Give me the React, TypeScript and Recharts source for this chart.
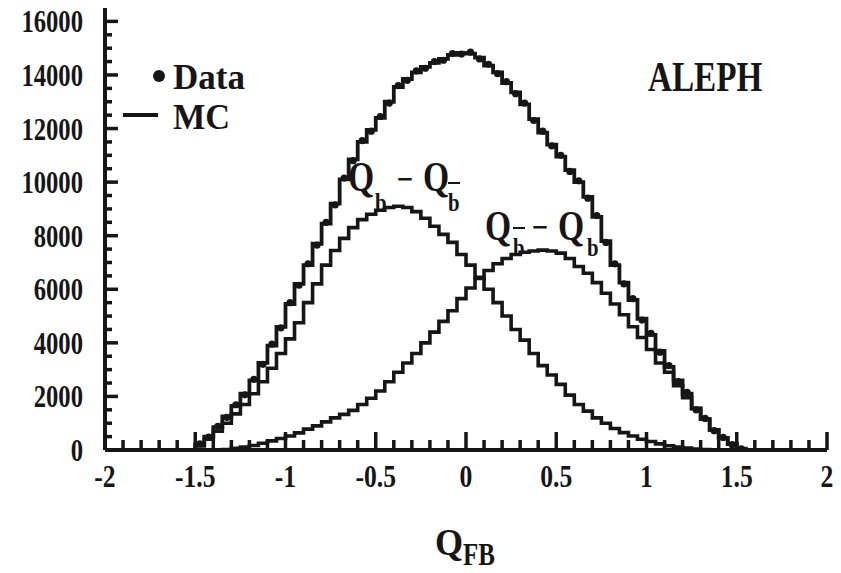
import { ComposedChart, Line, Scatter, XAxis, YAxis } from "recharts";

const INK = "#161616";
const FONT = '"Liberation Serif", "Times New Roman", serif';

// Q_FB histograms: 64 bins of width 0.05 spanning [-1.6, 1.6]
const BIN_START = -1.6;
const BIN_WIDTH = 0.05;

// total MC prediction
const mcTotal = [
  0, 0, 200, 500, 850, 1250, 1650, 2100, 2600, 3250, 3900, 4600, 5450, 6200, 6900, 7700,
  8450, 9200, 10100, 10850, 11500, 11950, 12400, 13000, 13550, 13850, 14100, 14300, 14450, 14600, 14750, 14820,
  14800, 14650, 14350, 14100, 13700, 13350, 12900, 12350, 11850, 11400, 10950, 10450, 10000, 9450, 8700, 7800,
  6900, 6250, 5600, 4900, 4300, 3700, 3100, 2600, 2100, 1550, 1150, 750, 450, 220, 30, 0,
];

// Q_b - Q_bbar component
const mcBminusBbar = [
  0, 0, 150, 400, 700, 1000, 1350, 1700, 2100, 2550, 3050, 3600, 4150, 4750, 5500, 6200,
  6900, 7450, 7900, 8300, 8600, 8800, 8950, 9050, 9100, 9050, 8900, 8650, 8350, 8050, 7750, 7300,
  6900, 6450, 6000, 5500, 5000, 4500, 4100, 3600, 3150, 2800, 2450, 2050, 1700, 1450, 1200, 1000,
  800, 650, 520, 400, 320, 230, 160, 110, 70, 40, 20, 10, 0, 0, 0, 0,
];

// Q_bbar - Q_b component
const mcBbarMinusB = [
  0, 0, 0, 0, 0, 20, 60, 110, 170, 250, 340, 430, 520, 640, 780, 900,
  1050, 1200, 1330, 1480, 1700, 1930, 2200, 2550, 2900, 3250, 3600, 4000, 4400, 4800, 5200, 5650,
  6050, 6400, 6700, 6950, 7150, 7300, 7380, 7430, 7460, 7430, 7350, 7150, 6850, 6600, 6250, 5850,
  5450, 5050, 4600, 4200, 3750, 3250, 2900, 2400, 1950, 1550, 1150, 750, 450, 220, 50, 0,
];

// measured events per bin
const dataCounts = [
  0, 0, 230, 480, 880, 1220, 1690, 2060, 2640, 3200, 3950, 4560, 5500, 6150, 6950, 7650,
  8500, 9150, 10150, 10800, 11550, 11900, 12450, 12950, 13600, 13800, 14150, 14250, 14500, 14550, 14800, 14780,
  14850, 14600, 14400, 14050, 13750, 13300, 12950, 12300, 11900, 11350, 11000, 10400, 10050, 9400, 8750, 7750,
  6950, 6200, 5650, 4850, 4350, 3650, 3150, 2550, 2150, 1500, 1180, 720, 470, 200, 40, 0,
];

const xMajor = [-2, -1.5, -1, -0.5, 0, 0.5, 1, 1.5, 2];
const yMajor = [0, 2000, 4000, 6000, 8000, 10000, 12000, 14000, 16000];

const round3 = (v: number) => Math.round(v * 1000) / 1000;
const edge = (i: number) => round3(BIN_START + i * BIN_WIDTH);

// left edge of every bin, plus closing edge so stepAfter drops back to zero
const stepRows = (counts: number[]) => [
  ...counts.map((n, i) => ({ x: edge(i), n })),
  { x: edge(counts.length), n: 0 },
];

const dataRows = dataCounts
  .map((n, i) => ({ x: round3(edge(i) + BIN_WIDTH / 2), n }))
  .filter((r) => r.n > 0);

const xTicks = Array.from({ length: 41 }, (_, i) => round3(-2 + i * 0.1));
const yTicks = Array.from({ length: 33 }, (_, i) => i * 500);

const Txt = ({ x, y, size, sx = 0.8, anchor = "start", children }: any) => (
  <text
    transform={`translate(${x},${y}) scale(${sx},1)`}
    fontFamily={FONT}
    fontWeight="bold"
    fontSize={size}
    textAnchor={anchor}
    fill={INK}
  >
    {children}
  </text>
);

const XTick = ({ x, y, payload }: any) => {
  const v = payload.value;
  const major = xMajor.some((m) => Math.abs(m - v) < 1e-6);
  return (
    <g>
      <rect x={x - 1.75} y={y - (major ? 18 : 10)} width={3.5} height={major ? 18 : 10} fill={INK} />
      {major && (
        <Txt x={x} y={y + 37} size={32} sx={0.8} anchor="middle">
          {String(v)}
        </Txt>
      )}
    </g>
  );
};

const YTick = ({ x, y, payload }: any) => {
  const v = payload.value;
  const major = yMajor.includes(v);
  return (
    <g>
      <rect x={x} y={y - 1.75} width={major ? 13 : 7} height={3.5} fill={INK} />
      {major && (
        <Txt x={x - 22} y={y + 11} size={32} sx={0.77} anchor="end">
          {String(v)}
        </Txt>
      )}
    </g>
  );
};

const Dot = ({ cx, cy }: any) => <circle cx={cx} cy={cy} r={3.6} fill={INK} />;

const frame = { stroke: INK, strokeWidth: 4 };

export default function App() {
  return (
    <div style={{ position: "absolute", left: 0, top: 0, width: 841, height: 573, background: "#fff" }}>
      <ComposedChart width={841} height={573} margin={{ top: 8, right: 14, bottom: 73, left: 0 }}>
        <XAxis
          xAxisId="main"
          type="number"
          dataKey="x"
          domain={[-2, 2]}
          ticks={xTicks}
          interval={0}
          height={50}
          tickSize={0}
          tickMargin={0}
          tickLine={false}
          axisLine={frame}
          tick={<XTick />}
          allowDataOverflow
        />
        <XAxis xAxisId="top" orientation="top" type="number" domain={[-2, 2]} height={0} tick={false} tickLine={false} axisLine={frame} />
        <YAxis
          yAxisId="main"
          type="number"
          domain={[0, 16500]}
          ticks={yTicks}
          interval={0}
          width={105}
          tickSize={0}
          tickMargin={0}
          tickLine={false}
          axisLine={frame}
          tick={<YTick />}
          allowDataOverflow
        />
        <YAxis yAxisId="right" orientation="right" type="number" domain={[0, 16500]} width={0} tick={false} tickLine={false} axisLine={frame} />
        <Line
          xAxisId="main"
          yAxisId="main"
          data={stepRows(mcBminusBbar)}
          dataKey="n"
          type="stepAfter"
          stroke={INK}
          strokeWidth={3.6}
          dot={false}
          activeDot={false}
          isAnimationActive={false}
        />
        <Line
          xAxisId="main"
          yAxisId="main"
          data={stepRows(mcBbarMinusB)}
          dataKey="n"
          type="stepAfter"
          stroke={INK}
          strokeWidth={3.6}
          dot={false}
          activeDot={false}
          isAnimationActive={false}
        />
        <Line
          xAxisId="main"
          yAxisId="main"
          data={stepRows(mcTotal)}
          dataKey="n"
          type="stepAfter"
          stroke={INK}
          strokeWidth={3.8}
          dot={false}
          activeDot={false}
          isAnimationActive={false}
        />
        <Scatter xAxisId="main" yAxisId="main" data={dataRows} dataKey="n" shape={<Dot />} isAnimationActive={false} />
      </ComposedChart>

      <svg width={841} height={573} style={{ position: "absolute", left: 0, top: 0, pointerEvents: "none" }}>
        {/* legend */}
        <circle cx={159} cy={76} r={6} fill={INK} />
        <Txt x={173} y={89} size={35} sx={1}>Data</Txt>
        <rect x={123} y={113} width={35} height={4} fill={INK} />
        <Txt x={173} y={129} size={35} sx={0.98}>MC</Txt>

        <Txt x={648} y={91} size={42} sx={0.79}>ALEPH</Txt>

        {/* Q_b - Q_bbar */}
        <Txt x={348} y={191} size={42} sx={0.8}>Q</Txt>
        <Txt x={375} y={211} size={26} sx={0.8}>b</Txt>
        <Txt x={405} y={191} size={36} sx={0.8} anchor="middle">−</Txt>
        <Txt x={423} y={191} size={42} sx={0.8}>Q</Txt>
        <Txt x={448} y={211} size={26} sx={0.8}>b</Txt>
        <rect x={448} y={182} width={12} height={2} fill={INK} />

        {/* Q_bbar - Q_b */}
        <Txt x={485} y={240} size={42} sx={0.8}>Q</Txt>
        <Txt x={513} y={256} size={26} sx={0.8}>b</Txt>
        <rect x={513} y={227} width={12} height={2} fill={INK} />
        <Txt x={540} y={239} size={36} sx={0.8} anchor="middle">−</Txt>
        <Txt x={558} y={240} size={42} sx={0.8}>Q</Txt>
        <Txt x={587} y={256} size={26} sx={0.8}>b</Txt>

        {/* axis title */}
        <Txt x={435} y={555} size={38} sx={0.95}>Q</Txt>
        <Txt x={463} y={565} size={32} sx={0.78}>FB</Txt>
      </svg>
    </div>
  );
}
